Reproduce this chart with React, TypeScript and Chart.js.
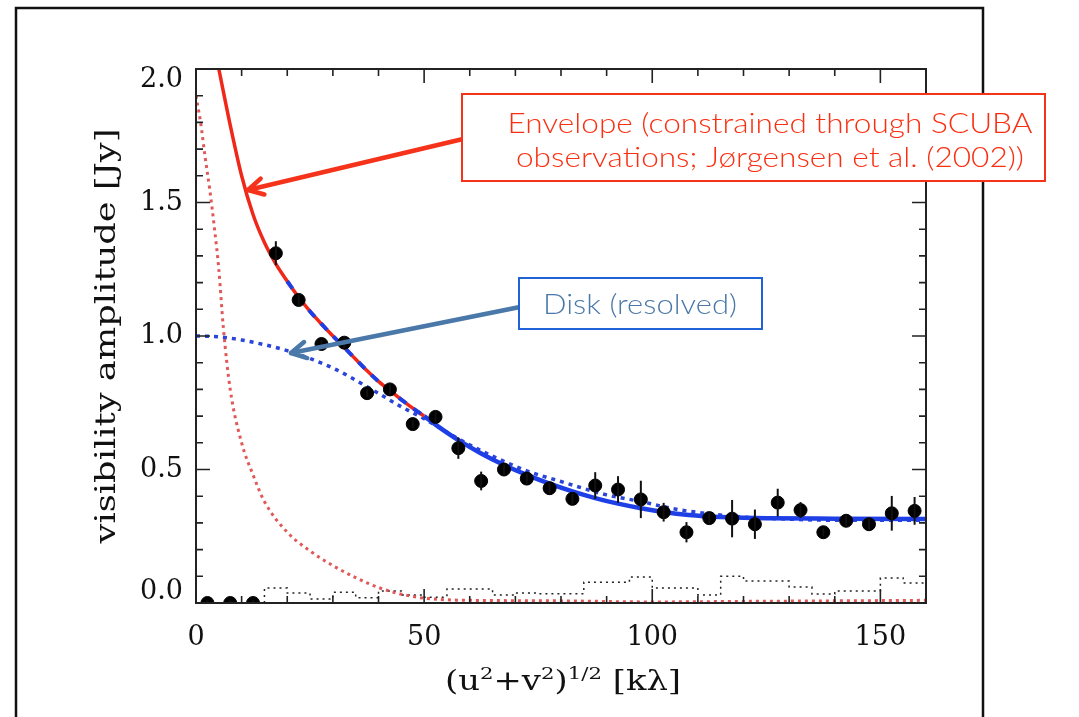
import React, { useEffect, useRef } from 'react';
import { Chart, registerables } from 'chart.js';

Chart.register(...registerables);

// ---- data ----
const binCenters = [2.5, 7.5, 12.5, 17.5, 22.5, 27.5, 32.5, 37.5, 42.5, 47.5, 52.5, 57.5, 62.5, 67.5, 72.5, 77.5, 82.5, 87.5, 92.5, 97.5, 102.5, 107.5, 112.5, 117.5, 122.5, 127.5, 132.5, 137.5, 142.5, 147.5, 152.5, 157.5];
const amplitudes = [0.0, 0.0, 0.0, 1.31, 1.135, 0.97, 0.975, 0.786, 0.8, 0.67, 0.697, 0.58, 0.457, 0.5, 0.466, 0.43, 0.39, 0.44, 0.425, 0.388, 0.34, 0.265, 0.318, 0.316, 0.295, 0.376, 0.348, 0.265, 0.308, 0.295, 0.336, 0.345];
const errors = [0.01, 0.01, 0.01, 0.045, 0.02, 0.015, 0.02, 0.015, 0.02, 0.015, 0.02, 0.04, 0.035, 0.02, 0.02, 0.02, 0.02, 0.05, 0.05, 0.07, 0.035, 0.038, 0.02, 0.07, 0.055, 0.052, 0.03, 0.015, 0.02, 0.02, 0.065, 0.052];

const modelX = [5, 7.5, 10, 12.5, 15, 17.5, 20, 22.5, 25, 27.5, 30, 32.5, 35, 37.5, 40, 42.5, 45, 47.5, 50, 52.5, 55, 57.5, 62.5, 67.5, 72.5, 77.5, 82.5, 87.5, 92.5, 97.5, 102.5, 108, 115, 125, 140, 160];
const modelY = [2.0, 1.79, 1.6, 1.455, 1.35, 1.27, 1.205, 1.145, 1.092, 1.045, 1.0, 0.957, 0.913, 0.87, 0.83, 0.795, 0.762, 0.73, 0.7, 0.668, 0.638, 0.61, 0.56, 0.517, 0.48, 0.447, 0.418, 0.393, 0.372, 0.355, 0.341, 0.33, 0.322, 0.317, 0.316, 0.315];

const diskX = [0, 5, 10, 20, 30, 37.5, 45, 50, 57.5, 65, 72.5, 80, 90, 97.5, 105, 112.5, 120, 130, 140, 150, 160];
const diskY = [1.0, 0.997, 0.985, 0.945, 0.88, 0.81, 0.735, 0.69, 0.615, 0.55, 0.495, 0.455, 0.405, 0.38, 0.352, 0.334, 0.322, 0.314, 0.31, 0.31, 0.31];

const envX = [0, 1, 2, 3, 4, 5, 6, 7.5, 10, 12.5, 15, 20, 25, 30, 35, 40, 45, 50, 55, 60, 80, 100, 120, 140, 160];
const envY = [1.9, 1.8, 1.67, 1.55, 1.41, 1.25, 1.03, 0.8, 0.6, 0.48, 0.38, 0.265, 0.195, 0.14, 0.095, 0.058, 0.033, 0.018, 0.012, 0.01, 0.008, 0.004, 0.006, 0.008, 0.01];

const histEdges = [15, 20, 25, 30, 35, 40, 45, 50, 55, 60, 65, 70, 75, 80, 85, 90, 95, 100, 105, 110, 115, 120, 125, 130, 135, 140, 145, 150, 155];
const histValues = [0.056, 0.037, 0.015, 0.04, 0.02, 0.045, 0.03, 0.022, 0.052, 0.052, 0.03, 0.037, 0.035, 0.035, 0.078, 0.078, 0.097, 0.056, 0.056, 0.03, 0.1, 0.082, 0.082, 0.06, 0.034, 0.045, 0.045, 0.094, 0.075];

const xTickValues = [0, 50, 100, 150];
const xTickLabels = ['0', '50', '100', '150'];
const yTickValues = [0, 0.5, 1.0, 1.5, 2.0];
const yTickLabels = ['0.0', '0.5', '1.0', '1.5', '2.0'];

const yTitle = 'visibility amplitude [Jy]';
// zero-width non-joiner keeps the "ti" from forming a ligature
const envelopeText = ['Envelope (constrained through SCUBA', 'observa\u200Ctions; Jørgensen et al. (2002))'];
const diskText = 'Disk (resolved)';

const X_MAX = 160;
const Y_MAX = 2.0;

const W = 1079;
const H = 717;

const ANN_FONT = '300 28px Lato, "Liberation Sans", sans-serif';

function pts(xs: number[], ys: number[], lo = -Infinity, hi = Infinity) {
  const out: { x: number; y: number }[] = [];
  xs.forEach((x, i) => {
    if (x >= lo && x <= hi) out.push({ x, y: ys[i] });
  });
  return out;
}

function fitText(ctx: CanvasRenderingContext2D, text: string, cx: number, cy: number, target: number, font: string, color: string, rot = 0) {
  ctx.save();
  ctx.font = font;
  const w = ctx.measureText(text).width;
  ctx.translate(cx, cy);
  if (rot) ctx.rotate(rot);
  ctx.scale(target / w, 1);
  ctx.fillStyle = color;
  ctx.textAlign = 'center';
  ctx.textBaseline = 'middle';
  ctx.fillText(text, 0, 0);
  ctx.restore();
}

function arrow(ctx: CanvasRenderingContext2D, x1: number, y1: number, x2: number, y2: number, color: string, lw: number) {
  ctx.save();
  ctx.strokeStyle = color;
  ctx.lineWidth = lw;
  ctx.lineCap = 'round';
  ctx.lineJoin = 'round';
  ctx.beginPath();
  ctx.moveTo(x1, y1);
  ctx.lineTo(x2, y2);
  ctx.stroke();
  const a = Math.atan2(y2 - y1, x2 - x1);
  const L = 17;
  const s = 0.5;
  ctx.beginPath();
  ctx.moveTo(x2 - L * Math.cos(a - s), y2 - L * Math.sin(a - s));
  ctx.lineTo(x2, y2);
  ctx.lineTo(x2 - L * Math.cos(a + s), y2 - L * Math.sin(a + s));
  ctx.stroke();
  ctx.restore();
}

const decorPlugin = {
  id: 'decor',
  afterDatasetsDraw(chart: any) {
    const ctx: CanvasRenderingContext2D = chart.ctx;
    const xs = chart.scales.x;
    const ys = chart.scales.y;
    const ca = chart.chartArea;

    // error bars
    ctx.save();
    ctx.strokeStyle = '#111';
    ctx.lineWidth = 2;
    binCenters.forEach((x, i) => {
      const px = xs.getPixelForValue(x);
      const y1 = ys.getPixelForValue(amplitudes[i] - errors[i]);
      const y2 = ys.getPixelForValue(amplitudes[i] + errors[i]);
      ctx.beginPath();
      ctx.moveTo(px, Math.min(y1, ca.bottom));
      ctx.lineTo(px, y2);
      ctx.stroke();
    });
    ctx.restore();

    // axes box
    ctx.save();
    ctx.strokeStyle = '#222';
    ctx.lineWidth = 2;
    ctx.strokeRect(ca.left, ca.top, ca.right - ca.left, ca.bottom - ca.top);
    ctx.lineWidth = 1.6;
    for (let v = 0; v <= X_MAX + 0.001; v += 10) {
      const px = xs.getPixelForValue(v);
      const len = Math.round(v) % 50 === 0 ? 14 : 7;
      ctx.beginPath();
      ctx.moveTo(px, ca.bottom);
      ctx.lineTo(px, ca.bottom - len);
      ctx.moveTo(px, ca.top);
      ctx.lineTo(px, ca.top + len);
      ctx.stroke();
    }
    for (let k = 0; k <= 20; k++) {
      const v = k / 10;
      const py = ys.getPixelForValue(v);
      const len = k % 5 === 0 ? 14 : 7;
      ctx.beginPath();
      ctx.moveTo(ca.left, py);
      ctx.lineTo(ca.left + len, py);
      ctx.moveTo(ca.right, py);
      ctx.lineTo(ca.right - len, py);
      ctx.stroke();
    }
    ctx.restore();

    // tick labels
    ctx.save();
    ctx.fillStyle = '#111';
    ctx.font = '27px "DejaVu Serif"';
    ctx.textAlign = 'right';
    ctx.textBaseline = 'middle';
    yTickValues.forEach((v, i) => {
      let py = ys.getPixelForValue(v);
      py = Math.max(ca.top + 11, Math.min(ca.bottom - 11, py));
      ctx.fillText(yTickLabels[i], ca.left - 13, py);
    });
    ctx.textAlign = 'center';
    xTickValues.forEach((v, i) => {
      ctx.fillText(xTickLabels[i], xs.getPixelForValue(v), ca.bottom + 35);
    });
    ctx.restore();

    // y title
    fitText(ctx, yTitle, 108, 336, 415, '28px "DejaVu Serif"', '#111', -Math.PI / 2);

    // x title with superscripts
    ctx.save();
    const parts: [string, boolean][] = [['(u', false], ['2', true], ['+v', false], ['2', true], [')', false], ['1/2', true], [' [kλ]', false]];
    const fN = '27px "DejaVu Serif"';
    const fS = '17px "DejaVu Serif"';
    let total = 0;
    const widths = parts.map(([t, s]) => {
      ctx.font = s ? fS : fN;
      const w = ctx.measureText(t).width;
      total += w;
      return w;
    });
    const target = 236;
    const sc = target / total;
    ctx.translate(563 - target / 2, 690);
    ctx.scale(sc, 1);
    ctx.fillStyle = '#111';
    ctx.textBaseline = 'alphabetic';
    ctx.textAlign = 'left';
    let cx = 0;
    parts.forEach(([t, s], i) => {
      ctx.font = s ? fS : fN;
      ctx.fillText(t, cx, s ? -11 : 0);
      cx += widths[i];
    });
    ctx.restore();
  },
  afterDraw(chart: any) {
    const ctx: CanvasRenderingContext2D = chart.ctx;
    // outer frame
    ctx.save();
    ctx.strokeStyle = '#111';
    ctx.lineWidth = 2.5;
    ctx.beginPath();
    ctx.moveTo(16, H + 5);
    ctx.lineTo(16, 8);
    ctx.lineTo(983, 8);
    ctx.lineTo(983, H + 5);
    ctx.stroke();
    ctx.restore();

    // arrows
    arrow(ctx, 463, 139, 248, 190, '#f5321a', 4.5);
    arrow(ctx, 520, 307, 291, 353, '#4a78a8', 4.5);

    // envelope box
    ctx.save();
    ctx.fillStyle = '#fff';
    ctx.fillRect(462, 94, 583, 87);
    ctx.strokeStyle = '#f5321a';
    ctx.lineWidth = 2;
    ctx.strokeRect(462, 94, 583, 87);
    ctx.restore();
    fitText(ctx, envelopeText[0], 770, 124, 525, ANN_FONT, '#fa2f12');
    fitText(ctx, envelopeText[1], 770, 158, 508, ANN_FONT, '#fa2f12');

    // disk box
    ctx.save();
    ctx.fillStyle = '#fff';
    ctx.fillRect(519, 278, 243, 51);
    ctx.strokeStyle = '#2162d8';
    ctx.lineWidth = 2;
    ctx.strokeRect(519, 278, 243, 51);
    ctx.restore();
    fitText(ctx, diskText, 640, 305, 194, ANN_FONT, '#4a78a8');
  },
};

export default function App() {
  const ref = useRef<HTMLCanvasElement | null>(null);

  useEffect(() => {
    const canvas = ref.current;
    if (!canvas) return;

    const hist = [{ x: histEdges[0], y: 0 }, ...pts(histEdges, histValues), { x: X_MAX, y: histValues[histValues.length - 1] }];

    const chart = new Chart(canvas, {
      type: 'scatter',
      data: {
        datasets: [
          {
            label: 'data',
            data: pts(binCenters, amplitudes),
            backgroundColor: '#000',
            borderColor: '#000',
            pointRadius: 6.5,
            pointHoverRadius: 6.5,
            showLine: false,
            clip: 0,
            order: 0,
          } as any,
          {
            label: 'total (disk)',
            data: pts(modelX, modelY, 50),
            showLine: true,
            borderColor: '#1f3fe6',
            borderWidth: 4.5,
            pointRadius: 0,
            cubicInterpolationMode: 'monotone',
            clip: 0,
            order: 1,
          } as any,
          {
            label: 'total overlap',
            data: pts(modelX, modelY, 20, 50),
            showLine: true,
            borderColor: '#1f3fe6',
            borderWidth: 4,
            borderDash: [9, 9],
            pointRadius: 0,
            cubicInterpolationMode: 'monotone',
            clip: 0,
            order: 2,
          } as any,
          {
            label: 'total (envelope)',
            data: pts(modelX, modelY, 0, 50),
            showLine: true,
            borderColor: '#f0281a',
            borderWidth: 3.5,
            pointRadius: 0,
            cubicInterpolationMode: 'monotone',
            clip: 0,
            order: 3,
          } as any,
          {
            label: 'disk',
            data: pts(diskX, diskY),
            showLine: true,
            borderColor: '#2a45d8',
            borderWidth: 3.5,
            borderDash: [4, 5],
            pointRadius: 0,
            cubicInterpolationMode: 'monotone',
            clip: 0,
            order: 4,
          } as any,
          {
            label: 'envelope',
            data: pts(envX, envY),
            showLine: true,
            borderColor: 'rgba(222,70,70,0.9)',
            borderWidth: 3,
            borderDash: [3, 4],
            pointRadius: 0,
            cubicInterpolationMode: 'monotone',
            clip: 0,
            order: 5,
          } as any,
          {
            label: 'noise',
            data: hist,
            showLine: true,
            stepped: 'before',
            borderColor: '#222',
            borderWidth: 1.5,
            borderDash: [2, 4],
            pointRadius: 0,
            clip: 0,
            order: 6,
          } as any,
        ],
      },
      options: {
        responsive: false,
        animation: false,
        events: [],
        layout: { padding: { left: 196, top: 69, right: W - 926, bottom: H - 603 } },
        plugins: { legend: { display: false }, title: { display: false }, tooltip: { enabled: false } },
        scales: {
          x: { type: 'linear', min: 0, max: X_MAX, display: false },
          y: { type: 'linear', min: 0, max: Y_MAX, display: false },
        },
      },
      plugins: [decorPlugin],
    });
    return () => chart.destroy();
  }, []);

  return (
    <div style={{ position: 'fixed', left: 0, top: 0, width: W, height: H, background: '#fff' }}>
      <canvas ref={ref} width={W} height={H} style={{ width: W, height: H, display: 'block' }} />
    </div>
  );
}
